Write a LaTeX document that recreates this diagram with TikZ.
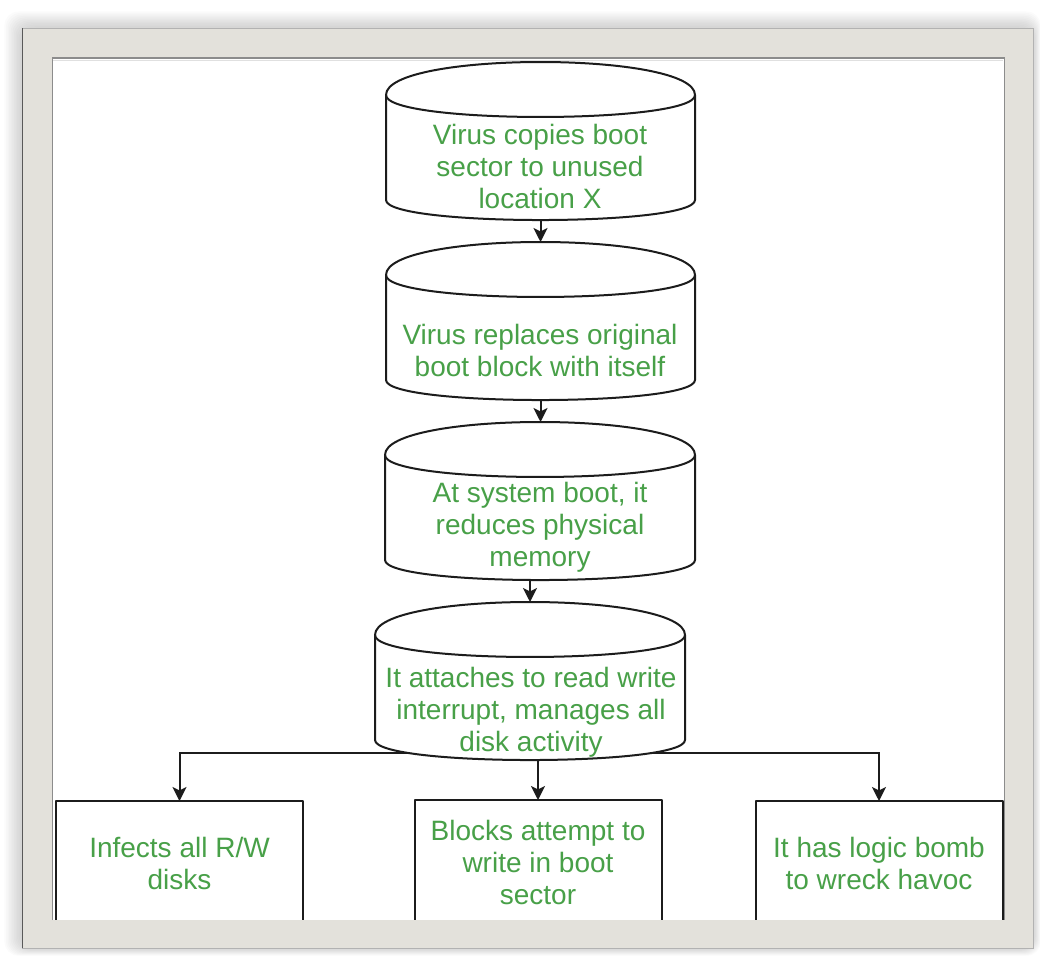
\documentclass[tikz,border=0pt]{standalone}
\usepackage{fontspec}
\setmainfont{Liberation Sans}
\usetikzlibrary{arrows.meta,calc}

\definecolor{labelgreen}{RGB}{72,160,72}
\definecolor{framefill}{RGB}{227,225,219}
\definecolor{inkline}{RGB}{28,28,28}

\tikzset{
  outline/.style={draw=inkline, line width=2pt, line join=round},
  drum/.style={rectangle, inner sep=0pt, outer sep=0pt, draw=none},
  caption/.style={text=labelgreen, align=center, inner sep=0pt,
    font=\fontsize{28}{32}\selectfont},
  leafbox/.style={outline, fill=white, rectangle, minimum width=247pt,
    minimum height=124pt, inner sep=0pt, outer sep=0pt, text=labelgreen,
    align=center, font=\fontsize{28}{32}\selectfont},
  conn/.style={draw=inkline, line width=2pt,
    -{Stealth[length=14pt,width=14pt,inset=3.5pt]}},
}

% database-style drum drawn around an empty node: top lid, body, bottom rim
\newcommand\drumoutline[1]{%
  \draw[outline, fill=white]
    ([yshift=-33pt]#1.north west)
      .. controls ([yshift=11pt]#1.north west) and ([yshift=11pt]#1.north east)
      .. ([yshift=-33pt]#1.north east)
    -- ([yshift=20pt]#1.south east)
      .. controls ([yshift=-6.7pt]#1.south east) and ([yshift=-6.7pt]#1.south west)
      .. ([yshift=20pt]#1.south west)
    -- cycle;
  \draw[outline]
    ([yshift=-33pt]#1.north west)
      .. controls ([yshift=-62.3pt]#1.north west) and ([yshift=-62.3pt]#1.north east)
      .. ([yshift=-33pt]#1.north east);
}

\begin{document}
\begin{tikzpicture}[x=1pt,y=-1pt]
\useasboundingbox (0,0) rectangle (1040,958);

% soft shadow around the frame
\foreach \i in {0,...,11} {
  \fill[black, opacity=0.014, rounded corners=14pt]
    ({22-1.6*\i},{28-1.5*\i}) rectangle ({1033+0.7*\i},{948+0.7*\i});
}
% white page
\fill[white] (52,58) rectangle (1004,920);

% drum placeholders
\node[drum, minimum width=309pt, minimum height=158pt] (c1) at (540.5,141) {};
\node[drum, minimum width=309pt, minimum height=158pt] (c2) at (540.5,321) {};
\node[drum, minimum width=310pt, minimum height=158pt] (c3) at (540,501) {};
\node[drum, minimum width=310pt, minimum height=158pt] (c4) at (530,681) {};

% leaf boxes
\node[leafbox] (b1) at (179.5,863) {Infects all R/W\\disks};
\node[leafbox] (b2) at (538,862) {Blocks attempt to\\write in boot\\sector};
\node[leafbox] (b3) at (879,863) {It has logic bomb\\to wreck havoc};

% connectors
\coordinate (fork) at (530,753);
\draw[conn] (c1.south) -- (c2.north);
\draw[conn] (c2.south) -- (c3.north -| c2.south);
\draw[conn] (c4.north |- c3.south) -- (c4.north);
\draw[conn] (fork) -| (b1.north);
\draw[conn] (fork) -| (b3.north);
\draw[conn] (c4.south -| b2.north) -- (b2.north);

% drums
\drumoutline{c1}
\drumoutline{c2}
\drumoutline{c3}
\drumoutline{c4}

% drum captions
\node[caption] (t1) at (540,166) {Virus copies boot\\sector to unused\\location X};
\node[caption] (t2) at (540,350) {Virus replaces original\\boot block with itself};
\node[caption] (t3) at (540,527) {At system boot, it\\reduces physical\\memory};
\node[caption] (t4) at (531,712) {It attaches to read write\\interrupt, manages all\\disk activity};

% frame around the page
\fill[framefill, even odd rule] (22,28) rectangle (1033,948) (52,58) rectangle (1004,920);
\draw[black!30, line width=0.8pt] (22,28) rectangle (1033,948);
\draw[black!65, line width=1pt] (22,948) -- (22,28);
\draw[black!45, line width=1pt] (52,920) -- (52,58) -- (1004,58) -- (1004,920);
\draw[black!12, line width=1.5pt] (53,60.5) -- (1003,60.5);
\end{tikzpicture}
\end{document}
